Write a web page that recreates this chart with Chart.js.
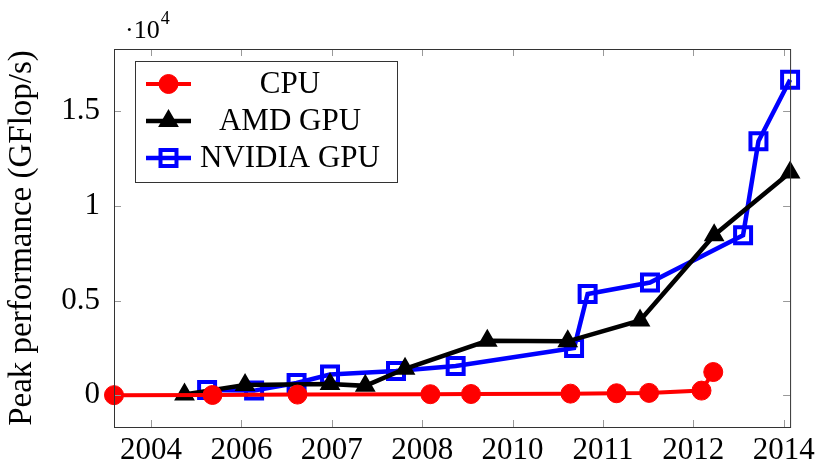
<!DOCTYPE html>
<html>
<head>
<meta charset="utf-8">
<script src="https://cdn.jsdelivr.net/npm/chart.js@4.4.1/dist/chart.umd.min.js"></script>
<style>
  body { margin: 0; background: #fff; }
</style>
</head>
<body>
<canvas id="c" width="820" height="462"></canvas>
<script>
// x positions are in tick units (tick k sits at k)
const xTickLabels = ['2004', '2006', '2007', '2008', '2010', '2011', '2012', '2014'];
const xTickPos = [0, 1, 2, 3, 4, 5, 6, 7];
const yTickValues = [0, 5000, 10000, 15000];

const cpuX = [-0.41, 0.68, 1.62, 3.09, 3.54, 4.64, 5.15, 5.51, 6.09, 6.22];
const cpuY = [10, 20, 40, 60, 70, 90, 110, 130, 250, 1230];

const amdX = [0.37, 1.04, 1.98, 2.37, 2.81, 3.72, 4.61, 5.41, 6.23, 7.07];
const amdY = [50, 550, 600, 500, 1400, 2880, 2850, 3950, 8450, 11750];

const nvX = [0.62, 1.14, 1.61, 1.98, 2.71, 3.37, 4.68, 4.83, 5.52, 6.55, 6.72, 7.07];
const nvY = [280, 250, 650, 1100, 1290, 1550, 2500, 5350, 5950, 8450, 13400, 16650];

function pts(xs, ys) {
    return xs.map((x, i) => ({x: x, y: ys[i]}));
}

Chart.defaults.font.family = "'Liberation Serif', 'Times New Roman', serif";
Chart.defaults.font.size = 31;
Chart.defaults.color = '#000';

// inward tick marks, frame, exponent label and boxed legend like pgfplots
const pgfLook = {
    id: 'pgfLook',
    afterDatasetsDraw(chart) {
        const ctx = chart.ctx;
        const a = chart.chartArea;
        const xs = chart.scales.x, ys = chart.scales.y;
        ctx.save();
        ctx.strokeStyle = '#999';
        ctx.lineWidth = 1;
        ctx.beginPath();
        xTickPos.forEach(v => {
            const px = Math.round(xs.getPixelForValue(v)) + 0.5;
            ctx.moveTo(px, a.bottom); ctx.lineTo(px, a.bottom - 7);
            ctx.moveTo(px, a.top); ctx.lineTo(px, a.top + 7);
        });
        yTickValues.forEach(v => {
            const py = Math.round(ys.getPixelForValue(v)) + 0.5;
            ctx.moveTo(a.left, py); ctx.lineTo(a.left + 7, py);
            ctx.moveTo(a.right, py); ctx.lineTo(a.right - 7, py);
        });
        ctx.stroke();
        ctx.strokeStyle = '#333';
        ctx.strokeRect(a.left + 0.5, a.top + 0.5, a.right - a.left, a.bottom - a.top);

        // ·10^4
        ctx.fillStyle = '#000';
        ctx.textBaseline = 'alphabetic';
        ctx.textAlign = 'left';
        ctx.font = "26px 'Liberation Serif', serif";
        ctx.fillText('\u00b710', a.left + 11, a.top - 11);
        const w = ctx.measureText('\u00b710').width;
        ctx.font = "18px 'Liberation Serif', serif";
        ctx.fillText('4', a.left + 12 + w, a.top - 25);
        ctx.restore();
    },
    afterDraw(chart) {
        const ctx = chart.ctx;
        const a = chart.chartArea;
        const bx = a.left + 21, by = a.top + 12, bw = 262, bh = 121;
        ctx.save();
        ctx.fillStyle = '#fff';
        ctx.fillRect(bx, by, bw, bh);
        ctx.strokeStyle = '#333';
        ctx.lineWidth = 1;
        ctx.strokeRect(bx + 0.5, by + 0.5, bw, bh);
        chart.data.datasets.forEach((ds, i) => {
            const cy = by + 23 + i * 37;
            const x0 = bx + 11, x1 = bx + 56, cx = (x0 + x1) / 2;
            ctx.strokeStyle = ds.borderColor;
            ctx.lineWidth = ds.borderWidth;
            ctx.beginPath();
            ctx.moveTo(x0, cy); ctx.lineTo(x1, cy);
            ctx.stroke();
            const r = ds.pointRadius;
            ctx.fillStyle = ds.pointBackgroundColor;
            ctx.strokeStyle = ds.pointBorderColor;
            ctx.lineWidth = ds.pointBorderWidth;
            ctx.beginPath();
            if (ds.pointStyle === 'circle') {
                ctx.arc(cx, cy, r, 0, Math.PI * 2);
            } else if (ds.pointStyle === 'triangle') {
                ctx.moveTo(cx, cy - r);
                ctx.lineTo(cx + r * Math.sqrt(3) / 2, cy + r / 2);
                ctx.lineTo(cx - r * Math.sqrt(3) / 2, cy + r / 2);
                ctx.closePath();
            } else {
                const s = r * Math.SQRT1_2;
                ctx.rect(cx - s, cy - s, 2 * s, 2 * s);
            }
            ctx.fill();
            ctx.stroke();
            ctx.fillStyle = '#000';
            ctx.font = "31px 'Liberation Serif', serif";
            ctx.textAlign = 'center';
            ctx.textBaseline = 'middle';
            ctx.fillText(ds.label, bx + 155, cy + 1);
        });
        ctx.restore();
    }
};

new Chart(document.getElementById('c'), {
    type: 'line',
    data: {
        datasets: [{
            label: 'CPU',
            data: pts(cpuX, cpuY),
            borderColor: '#ff0000',
            borderWidth: 4,
            pointStyle: 'circle',
            pointRadius: 9.5,
            pointBackgroundColor: '#ff0000',
            pointBorderColor: '#ff0000',
            pointBorderWidth: 1,
            clip: false
        }, {
            label: 'AMD GPU',
            data: pts(amdX, amdY),
            borderColor: '#000000',
            borderWidth: 4.5,
            pointStyle: 'triangle',
            pointRadius: 10,
            pointBackgroundColor: '#000000',
            pointBorderColor: '#000000',
            pointBorderWidth: 2,
            clip: false
        }, {
            label: 'NVIDIA GPU',
            data: pts(nvX, nvY),
            borderColor: '#0000ff',
            borderWidth: 4.5,
            pointStyle: 'rect',
            pointRadius: 11.3,
            pointBackgroundColor: 'rgba(0,0,0,0)',
            pointBorderColor: '#0000ff',
            pointBorderWidth: 4,
            clip: false
        }]
    },
    options: {
        responsive: false,
        animation: false,
        layout: { padding: { top: 49, right: 26, left: 0, bottom: 0 } },
        elements: { line: { tension: 0 } },
        plugins: {
            legend: { display: false },
            tooltip: { enabled: false }
        },
        scales: {
            x: {
                type: 'linear',
                min: -0.41,
                max: 7.07,
                afterBuildTicks: s => { s.ticks = xTickPos.map(v => ({value: v})); },
                afterFit: s => { s.height = 35; },
                grid: { display: false, drawTicks: false },
                border: { display: false },
                ticks: {
                    padding: 5,
                    maxRotation: 0,
                    autoSkip: false,
                    callback: (v, i) => xTickLabels[i]
                }
            },
            y: {
                min: -1670,
                max: 18270,
                afterBuildTicks: s => { s.ticks = yTickValues.map(v => ({value: v})); },
                afterFit: s => { s.width = 114; },
                grid: { display: false, drawTicks: false },
                border: { display: false },
                ticks: {
                    padding: 14,
                    callback: v => String(v / 10000)
                },
                title: {
                    display: true,
                    text: 'Peak performance (GFlop/s)',
                    padding: { top: 3, bottom: 0 },
                    font: { size: 33 }
                }
            }
        }
    },
    plugins: [pgfLook]
});
</script>
</body>
</html>
